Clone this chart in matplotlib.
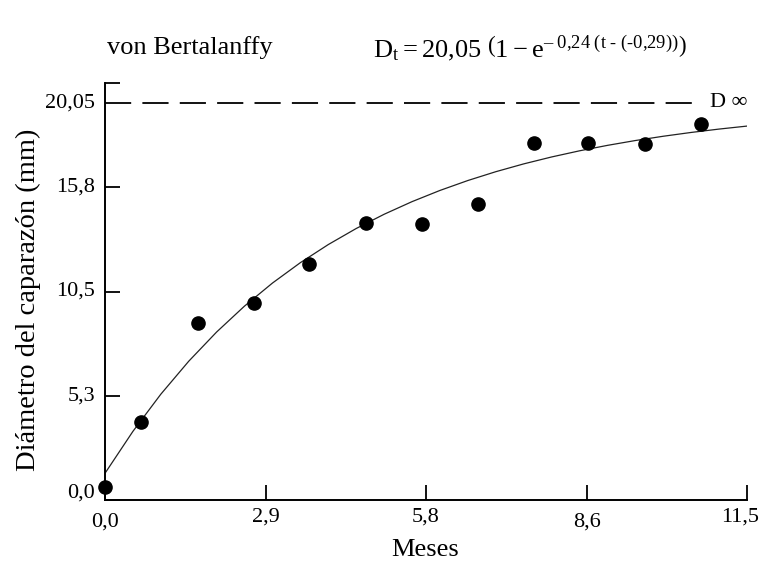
import numpy as np
import matplotlib
matplotlib.use("Agg")
import matplotlib.pyplot as plt
from matplotlib.transforms import offset_copy

plt.rcParams["font.family"] = ["Liberation Serif", "DejaVu Serif"]
plt.rcParams["mathtext.fontset"] = "custom"
plt.rcParams["mathtext.rm"] = "Liberation Serif"
plt.rcParams["mathtext.it"] = "Liberation Serif"
plt.rcParams["mathtext.bf"] = "Liberation Serif:bold"

# Observed carapace diameter by month
meses = [0.0, 0.65, 1.67, 2.67, 3.66, 4.68, 5.68, 6.68, 7.68, 8.66, 9.67, 10.68]
diametro = [0.67, 3.96, 8.94, 9.93, 11.92, 13.98, 13.94, 14.96, 17.99, 17.99, 17.96, 18.97]

# von Bertalanffy parameters
d_inf = 20.05
k = 0.24
t0 = -0.29

x_ticks = [0.0, 2.875, 5.75, 8.625, 11.5]
x_tick_labels = ["0,0", "2,9", "5,8", "8,6", "11,5"]
y_ticks = [0.0, 5.26, 10.52, 15.78, 21.04]
y_tick_labels = ["0,0", "5,3", "10,5", "15,8", ""]

fig = plt.figure(figsize=(7.59, 5.67), dpi=100)
ax = fig.add_axes([105 / 759, 1 - 500 / 567, 642 / 759, 417 / 567])

t = np.linspace(0, 11.5, 24)
ax.plot(t, d_inf * (1 - np.exp(-k * (t - t0))), color="#222222", lw=0.9)
ax.plot(meses, diametro, "o", color="black", ms=9.5, clip_on=False, zorder=5)

ax.plot([0, 10.66], [d_inf, d_inf], color="black", lw=1.3,
        dashes=(14.5, 6.2), clip_on=False)
ax.text(10.83, d_inf, "D \u221e", fontsize=16, va="center", ha="left")

ax.set_xlim(0, 11.5)
ax.set_ylim(0, 21.04)
ax.spines["top"].set_visible(False)
ax.spines["right"].set_visible(False)
for s in ("left", "bottom"):
    ax.spines[s].set_linewidth(1.4)

ax.set_xticks(x_ticks)
ax.set_xticklabels([])
ax.set_yticks(y_ticks)
ax.set_yticklabels([])
ax.tick_params(direction="in", length=11, width=1.3)

# tick labels placed by hand (slight per-label offsets, in pixels)
x_shift = [0, 0, 0, 0, -7]
x_drop = [22, 17, 17, 22, 17]
for xv, lab, dx, dy in zip(x_ticks, x_tick_labels, x_shift, x_drop):
    tr = offset_copy(ax.get_xaxis_transform(), fig=fig, x=dx, y=-dy, units="dots")
    ax.text(xv, 0, lab, transform=tr, fontsize=16, ha="center", va="center")

y_lift = [7, 0, 0, 0, 0]
for yv, lab, dy in zip(y_ticks, y_tick_labels, y_lift):
    if not lab:
        continue
    tr = offset_copy(ax.get_yaxis_transform(), fig=fig, x=-10, y=dy, units="dots")
    ax.text(0, yv, lab, transform=tr, fontsize=16, ha="right", va="center")
tr = offset_copy(ax.get_yaxis_transform(), fig=fig, x=-10, y=0, units="dots")
ax.text(0, d_inf, "20,05", transform=tr, fontsize=16, ha="right", va="center")

fig.text(425 / 759, 1 - 550 / 567, "Meses", fontsize=19, ha="center", va="center")
fig.text(28 / 759, 1 - 300 / 567, "Diámetro del caparazón (mm)", fontsize=20.5,
         ha="center", va="center", rotation=90)

fig.text(107 / 759, 1 - 48 / 567, "von Bertalanffy", fontsize=19,
         ha="left", va="center")
fig.text(373 / 759, 1 - 48 / 567,
         r"$\mathrm{D_t = 20{,}05\ \left(1 - e^{\text{– 0,24 (t - (-0,29))}}\right)}$",
         fontsize=19, ha="left", va="center")

fig.savefig("out.png", dpi=100)
